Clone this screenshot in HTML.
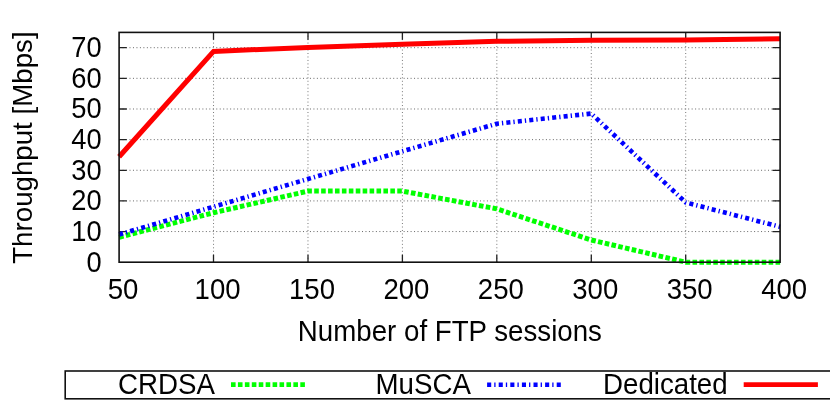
<!DOCTYPE html><html><head><meta charset="utf-8"><style>html,body{margin:0;padding:0;background:#fff}svg{display:block}#txt{opacity:0.999}text{font-family:"Liberation Sans",sans-serif;fill:#000}</style></head><body>
<svg width="830" height="406" viewBox="0 0 830 406">
<rect width="830" height="406" fill="#fff"/>
<path d="M119.1,231.56H780.1M119.1,200.91H780.1M119.1,170.27H780.1M119.1,139.63H780.1M119.1,108.99H780.1M119.1,78.34H780.1M119.1,47.70H780.1" stroke="#686868" stroke-width="1" stroke-dasharray="1,2.47" fill="none"/>
<path d="M213.54,262.2V32.4M307.97,262.2V32.4M402.41,262.2V32.4M496.84,262.2V32.4M591.28,262.2V32.4M685.71,262.2V32.4" stroke="#777" stroke-width="1" stroke-dasharray="1,2.47" fill="none"/>
<path d="M119.1,231.6h7.6M780.1,231.6h-7.6M119.1,200.9h7.6M780.1,200.9h-7.6M119.1,170.3h7.6M780.1,170.3h-7.6M119.1,139.6h7.6M780.1,139.6h-7.6M119.1,109.0h7.6M780.1,109.0h-7.6M119.1,78.3h7.6M780.1,78.3h-7.6M119.1,47.7h7.6M780.1,47.7h-7.6M213.5,262.2v-7.4M213.5,32.4v7.4M308.0,262.2v-7.4M308.0,32.4v7.4M402.4,262.2v-7.4M402.4,32.4v7.4M496.8,262.2v-7.4M496.8,32.4v7.4M591.3,262.2v-7.4M591.3,32.4v7.4M685.7,262.2v-7.4M685.7,32.4v7.4" stroke="#222" stroke-width="1.3" fill="none"/>
<polyline points="119.10,237.23 213.54,212.71 307.97,191.11 402.41,191.11 496.84,208.88 591.28,239.98 685.71,262.20 780.15,262.20" stroke="#00ff00" stroke-width="5" stroke-dasharray="4.6,2.32" fill="none" stroke-linejoin="miter"/>
<polyline points="119.10,234.47 213.54,206.74 307.97,179.00 402.41,151.27 496.84,123.69 591.28,113.58 685.71,202.45 780.15,226.81" stroke="#0000ff" stroke-width="4.6" stroke-dasharray="4.07,3.03,1.29,3.13" fill="none"/>
<polyline points="119.10,156.79 213.54,51.38 307.97,47.39 402.41,44.33 496.84,41.26 591.28,40.35 685.71,40.04 780.15,38.66" stroke="#ff0000" stroke-width="5" fill="none" stroke-linejoin="miter"/>
<rect x="119.1" y="32.4" width="661.0" height="229.8" stroke="#111" stroke-width="1.6" fill="none"/>
<g id="txt">
<text transform="translate(101.60,271.70) scale(0.985,1.035)" font-size="27.7" text-anchor="end">0</text>
<text transform="translate(101.60,241.06) scale(0.985,1.035)" font-size="27.7" text-anchor="end">10</text>
<text transform="translate(101.60,210.41) scale(0.985,1.035)" font-size="27.7" text-anchor="end">20</text>
<text transform="translate(101.60,179.77) scale(0.985,1.035)" font-size="27.7" text-anchor="end">30</text>
<text transform="translate(101.60,149.13) scale(0.985,1.035)" font-size="27.7" text-anchor="end">40</text>
<text transform="translate(101.60,118.49) scale(0.985,1.035)" font-size="27.7" text-anchor="end">50</text>
<text transform="translate(101.60,87.84) scale(0.985,1.035)" font-size="27.7" text-anchor="end">60</text>
<text transform="translate(101.60,57.20) scale(0.985,1.035)" font-size="27.7" text-anchor="end">70</text>
<text transform="translate(123.10,299.10) scale(0.995,1.035)" font-size="27.7" text-anchor="middle">50</text>
<text transform="translate(217.54,299.10) scale(0.995,1.035)" font-size="27.7" text-anchor="middle">100</text>
<text transform="translate(311.97,299.10) scale(0.995,1.035)" font-size="27.7" text-anchor="middle">150</text>
<text transform="translate(406.41,299.10) scale(0.995,1.035)" font-size="27.7" text-anchor="middle">200</text>
<text transform="translate(500.84,299.10) scale(0.995,1.035)" font-size="27.7" text-anchor="middle">250</text>
<text transform="translate(595.28,299.10) scale(0.995,1.035)" font-size="27.7" text-anchor="middle">300</text>
<text transform="translate(689.71,299.10) scale(0.995,1.035)" font-size="27.7" text-anchor="middle">350</text>
<text transform="translate(784.15,299.10) scale(0.995,1.035)" font-size="27.7" text-anchor="middle">400</text>
<text transform="translate(449.90,341.00) scale(1.0,1.035)" font-size="27.7" text-anchor="middle">Number of FTP sessions</text>
<text transform="translate(31.80,147.60) rotate(-90) scale(1.0,1.0)" font-size="27.7" text-anchor="middle">Throughput [Mbps]</text>
<text transform="translate(118.00,394.20) scale(1.0,1.035)" font-size="27.7" text-anchor="start">CRDSA</text>
<text transform="translate(375.50,394.20) scale(1.0,1.035)" font-size="27.7" text-anchor="start">MuSCA</text>
<text transform="translate(603.00,394.20) scale(1.0,1.035)" font-size="27.7" text-anchor="start">Dedicated</text>
</g>
<rect x="65.2" y="371" width="800" height="27.8" stroke="#111" stroke-width="1.6" fill="none"/>
<path d="M231,384.7H305.2" stroke="#00ff00" stroke-width="4.8" stroke-dasharray="4.6,2.33" fill="none"/>
<path d="M487.1,384.7H561" stroke="#0000ff" stroke-width="4.6" stroke-dasharray="4.1,3.05,1.3,3.15" fill="none"/>
<path d="M743.7,384.7H817.9" stroke="#ff0000" stroke-width="4.8" fill="none"/>
</svg></body></html>
